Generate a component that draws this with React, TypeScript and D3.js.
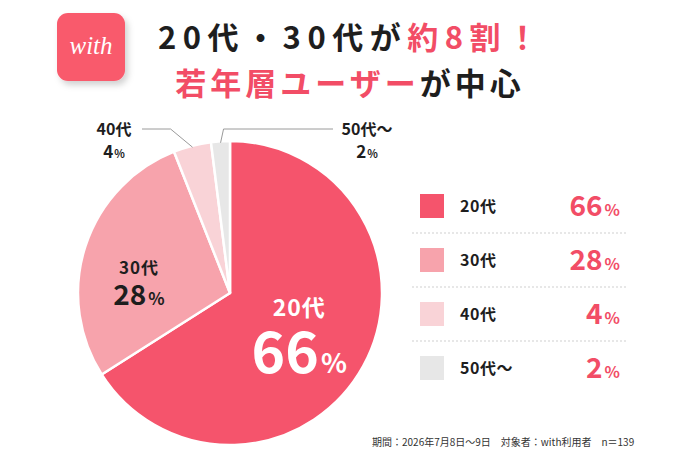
import React, { useEffect, useRef } from 'react';
import * as d3 from 'd3';

// age groups and their share of users (%)
const ages = ['20代', '30代', '40代', '50代～'];
const shares = [66, 28, 4, 2];
const sliceColors = ['#F5546C', '#F7A3AC', '#F9D3D7', '#E7E7E7'];

const titleLine1 = [
  { t: '20代・30代が', pink: false },
  { t: '約8割！', pink: true },
];
const titleLine2 = [
  { t: '若年層ユーザー', pink: true },
  { t: 'が中心', pink: false },
];
const footnote = '期間：2026年7月8日～9日　対象者：with利用者　n＝139';

const W = 690;
const H = 460;
const PINK = '#F24D66';
const DARK = '#1E1E1E';
const FONT = '"Noto Sans CJK JP", "Noto Sans", sans-serif';

const App: React.FC = () => {
  const svgRef = useRef<SVGSVGElement>(null);

  useEffect(() => {
    document.body.style.margin = '0';
    if (!svgRef.current) return;
    const svg = d3.select(svgRef.current);
    svg.selectAll('*').remove();

    const defs = svg.append('defs');
    const shadow = defs.append('filter').attr('id', 'logoShadow')
      .attr('x', '-30%').attr('y', '-30%').attr('width', '160%').attr('height', '160%');
    shadow.append('feDropShadow')
      .attr('dx', 3).attr('dy', 4).attr('stdDeviation', 3)
      .attr('flood-color', '#000').attr('flood-opacity', 0.18);

    // logo
    svg.append('rect')
      .attr('x', 57).attr('y', 13).attr('width', 68).attr('height', 68)
      .attr('rx', 11).attr('fill', '#F95A6C')
      .attr('filter', 'url(#logoShadow)');
    svg.append('text')
      .attr('x', 91).attr('y', 54)
      .attr('text-anchor', 'middle')
      .attr('fill', '#fff')
      .style('font-family', '"Liberation Serif", serif')
      .style('font-style', 'italic')
      .style('font-size', '25px')
      .text('with');

    // title
    const addTitle = (parts: { t: string; pink: boolean }[], y: number, size: number, spacing: number) => {
      const t = svg.append('text')
        .attr('x', 348 + spacing / 2).attr('y', y)
        .attr('text-anchor', 'middle')
        .style('font-family', FONT)
        .style('font-weight', 700)
        .style('font-size', `${size}px`)
        .style('letter-spacing', `${spacing}px`);
      parts.forEach(p => {
        t.append('tspan').attr('fill', p.pink ? PINK : DARK).text(p.t);
      });
    };
    addTitle(titleLine1, 49, 31, 6.5);
    addTitle(titleLine2, 95, 31, 4);

    // pie
    const cx = 230;
    const cy = 293;
    const R = 152;
    const pie = d3.pie<number>().sort(null).value(d => d);
    const arcs = pie(shares);
    const arc = d3.arc<d3.PieArcDatum<number>>().innerRadius(0).outerRadius(R);

    const g = svg.append('g').attr('transform', `translate(${cx},${cy})`);
    g.selectAll('path.slice')
      .data(arcs)
      .enter().append('path')
      .attr('class', 'slice')
      .attr('d', arc)
      .attr('fill', (d, i) => sliceColors[i])
      .attr('stroke', '#fff')
      .attr('stroke-width', 2.5)
      .attr('stroke-linejoin', 'round');

    // inner labels (20代, 30代)
    const inner = [
      { i: 0, rf: 0.52, nameDy: -15, numDy: 42, color: '#fff', nameSize: 23, numSize: 57, pctSize: 27 },
      { i: 1, rf: 0.63, nameDy: 11, numDy: 42, color: DARK, nameSize: 17, numSize: 28, pctSize: 17 },
    ];
    inner.forEach(o => {
      const la = d3.arc<d3.PieArcDatum<number>>().innerRadius(R * o.rf).outerRadius(R * o.rf);
      const [lx, ly] = la.centroid(arcs[o.i]);
      g.append('text')
        .attr('x', lx).attr('y', ly + o.nameDy)
        .attr('text-anchor', 'middle')
        .attr('fill', o.color)
        .style('font-family', FONT).style('font-weight', 700)
        .style('font-size', `${o.nameSize}px`)
        .style('letter-spacing', '1px')
        .text(ages[o.i]);
      const t = g.append('text')
        .attr('x', lx).attr('y', ly + o.numDy)
        .attr('text-anchor', 'middle')
        .attr('fill', o.color)
        .style('font-family', FONT).style('font-weight', 700);
      t.append('tspan').style('font-size', `${o.numSize}px`).text(shares[o.i]);
      t.append('tspan').style('font-size', `${o.pctSize}px`).attr('dx', 2).text('%');
    });

    // outer labels with leader lines (40代, 50代～)
    const outer = [
      { i: 2, elbowDx: -22, lineY: -164, endX: -88, textX: -116 },
      { i: 3, elbowDx: 3, lineY: -164, endX: 103, textX: 137 },
    ];
    outer.forEach(o => {
      const la = d3.arc<d3.PieArcDatum<number>>().innerRadius(R * 0.99).outerRadius(R * 0.99);
      const [px, py] = la.centroid(arcs[o.i]);
      const ex = px + o.elbowDx;
      g.append('path')
        .attr('d', `M${px},${py}L${ex},${o.lineY}L${o.endX},${o.lineY}`)
        .attr('fill', 'none')
        .attr('stroke', '#9a9a9a')
        .attr('stroke-width', 1);
      g.append('text')
        .attr('x', o.textX).attr('y', o.lineY + 6)
        .attr('text-anchor', 'middle')
        .attr('fill', DARK)
        .style('font-family', FONT).style('font-weight', 700)
        .style('font-size', '16px')
        .text(ages[o.i]);
      const t = g.append('text')
        .attr('x', o.textX).attr('y', o.lineY + 29)
        .attr('text-anchor', 'middle')
        .attr('fill', DARK)
        .style('font-family', FONT).style('font-weight', 700);
      t.append('tspan').style('font-size', '17px').text(shares[o.i]);
      t.append('tspan').style('font-size', '11px').attr('dx', 1).text('%');
    });

    // legend
    const y = d3.scaleBand<string>().domain(ages).range([179, 395]).padding(0);
    const lg = svg.append('g');
    ages.forEach((a, i) => {
      const yc = (y(a) as number) + y.bandwidth() / 2;
      lg.append('rect')
        .attr('x', 420).attr('y', yc - 12)
        .attr('width', 24).attr('height', 24)
        .attr('fill', sliceColors[i]);
      lg.append('text')
        .attr('x', 460).attr('y', yc + 6)
        .attr('fill', DARK)
        .style('font-family', FONT).style('font-weight', 700)
        .style('font-size', '16px')
        .style('letter-spacing', '0.5px')
        .text(a);
      const t = lg.append('text')
        .attr('x', 620).attr('y', yc + 10)
        .attr('text-anchor', 'end')
        .attr('fill', PINK)
        .style('font-family', FONT).style('font-weight', 700);
      t.append('tspan').style('font-size', '28px').text(shares[i]);
      t.append('tspan').style('font-size', '16px').attr('dx', 2).text('%');
      if (i < ages.length - 1) {
        const ly = (y(a) as number) + y.bandwidth();
        lg.append('line')
          .attr('x1', 412).attr('x2', 627)
          .attr('y1', ly).attr('y2', ly)
          .attr('stroke', '#cfcfcf')
          .attr('stroke-width', 1)
          .attr('stroke-dasharray', '2,2');
      }
    });

    // footnote
    svg.append('text')
      .attr('x', 372).attr('y', 446)
      .attr('fill', '#333')
      .style('font-family', FONT)
      .style('font-size', '10px')
      .text(footnote);
  }, []);

  return <svg ref={svgRef} width={W} height={H} style={{ display: 'block', background: '#fff' }} />;
};

export default App;
